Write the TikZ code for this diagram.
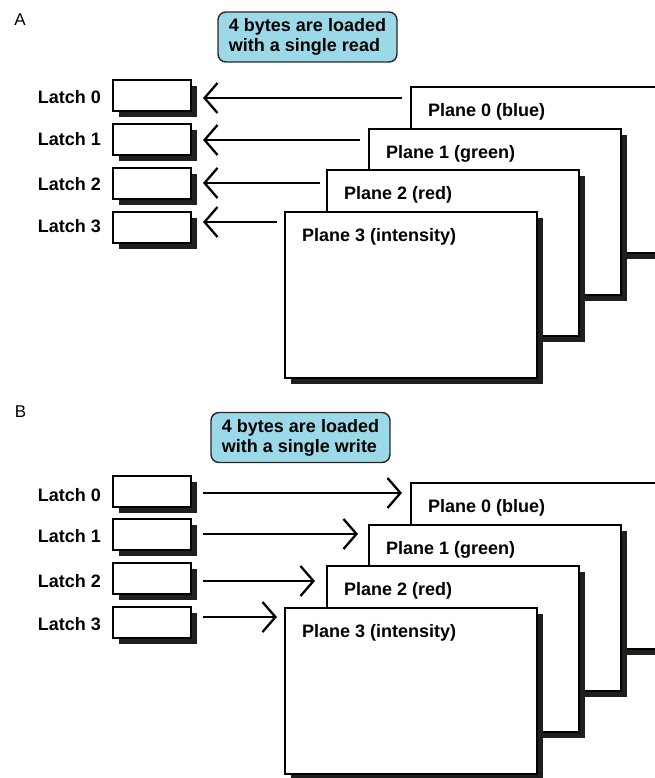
\documentclass[tikz,border=0pt]{standalone}
\usepackage{fontspec}
\setmainfont{Liberation Sans}
\usetikzlibrary{arrows.meta,shadows}
\definecolor{bub}{RGB}{155,217,232}
\definecolor{shd}{RGB}{30,32,28}
\begin{document}
\begin{tikzpicture}[x=1pt,y=-1pt,
  shd/.style={drop shadow={shadow xshift=6pt,shadow yshift=-6pt,fill=shd,opacity=1}},
  latch/.style={draw,line width=2.6pt,fill=white,minimum width=78pt,minimum height=31pt,
    anchor=north west,inner sep=0pt,outer sep=0pt,shd},
  plane/.style={draw,line width=2.5pt,fill=white,minimum width=252pt,minimum height=166pt,
    anchor=north west,inner sep=0pt,outer sep=0pt,shd},
  bubble/.style={draw=black!85,line width=1.4pt,fill=bub,rounded corners=8pt,
    minimum width=179pt,minimum height=50pt,align=left,inner sep=0pt,
    font=\bfseries\fontsize{18}{20}\selectfont},
  lbl/.style={font=\bfseries\fontsize{18}{20}\selectfont,inner sep=0pt},
  panel/.style={font=\fontsize{17}{20}\selectfont,inner sep=0pt},
  ar/.style={line width=2.3pt,-{Straight Barb[length=13pt,width=30pt]}}]
\useasboundingbox (0,0) rectangle (655,778);
\clip (0,0) rectangle (655,778);

% ---------------- Panel A ----------------
\node[panel] (labA) at (20,19.5) {A};
\node[bubble] (bubA) at (307.5,37) {4 bytes are loaded\\with a single read};

\node[plane] (pA0) at (411,87) {};
\node[plane] (pA1) at (369,129) {};
\node[plane] (pA2) at (327,170) {};
\node[plane] (pA3) at (285,212) {};
\node[lbl,anchor=base west] (tpA0) at (428,116.5) {Plane 0 (blue)};
\node[lbl,anchor=base west] (tpA1) at (386,158.5) {Plane 1 (green)};
\node[lbl,anchor=base west] (tpA2) at (344,199.5) {Plane 2 (red)};
\node[lbl,anchor=base west] (tpA3) at (302,241.5) {Plane 3 (intensity)};

\node[latch] (lA0) at (113,80) {};
\node[latch] (lA1) at (113,124) {};
\node[latch] (lA2) at (113,168) {};
\node[latch] (lA3) at (113,212) {};
\node[lbl,anchor=base east] (tlA0) at (101,104) {Latch 0};
\node[lbl,anchor=base east] (tlA1) at (101,146) {Latch 1};
\node[lbl,anchor=base east] (tlA2) at (101,190) {Latch 2};
\node[lbl,anchor=base east] (tlA3) at (101,232.5) {Latch 3};

\coordinate (sA0) at (402,98);  \coordinate (eA0) at (203,98);
\coordinate (sA1) at (360,140); \coordinate (eA1) at (203,140);
\coordinate (sA2) at (320,183); \coordinate (eA2) at (203,183);
\coordinate (sA3) at (277,222); \coordinate (eA3) at (203,222);
\draw[ar] (sA0) -- (eA0);
\draw[ar] (sA1) -- (eA1);
\draw[ar] (sA2) -- (eA2);
\draw[ar] (sA3) -- (eA3);

% ---------------- Panel B ----------------
\node[panel] (labB) at (20.5,412) {B};
\node[bubble] (bubB) at (300.5,437.5) {4 bytes are loaded\\with a single write};

\node[plane] (pB0) at (411,483) {};
\node[plane] (pB1) at (369,525) {};
\node[plane] (pB2) at (327,566) {};
\node[plane] (pB3) at (285,608) {};
\node[lbl,anchor=base west] (tpB0) at (428,512.5) {Plane 0 (blue)};
\node[lbl,anchor=base west] (tpB1) at (386,554.5) {Plane 1 (green)};
\node[lbl,anchor=base west] (tpB2) at (344,595.5) {Plane 2 (red)};
\node[lbl,anchor=base west] (tpB3) at (302,637.5) {Plane 3 (intensity)};

\node[latch] (lB0) at (113,476) {};
\node[latch] (lB1) at (113,519) {};
\node[latch] (lB2) at (113,563) {};
\node[latch] (lB3) at (113,607) {};
\node[lbl,anchor=base east] (tlB0) at (101,501) {Latch 0};
\node[lbl,anchor=base east] (tlB1) at (101,542) {Latch 1};
\node[lbl,anchor=base east] (tlB2) at (101,587) {Latch 2};
\node[lbl,anchor=base east] (tlB3) at (101,630) {Latch 3};

\coordinate (sB0) at (203,493); \coordinate (eB0) at (402,493);
\coordinate (sB1) at (203,534); \coordinate (eB1) at (358,534);
\coordinate (sB2) at (203,581); \coordinate (eB2) at (315,581);
\coordinate (sB3) at (203,617); \coordinate (eB3) at (277,617);
\draw[ar] (sB0) -- (eB0);
\draw[ar] (sB1) -- (eB1);
\draw[ar] (sB2) -- (eB2);
\draw[ar] (sB3) -- (eB3);
\end{tikzpicture}
\end{document}
